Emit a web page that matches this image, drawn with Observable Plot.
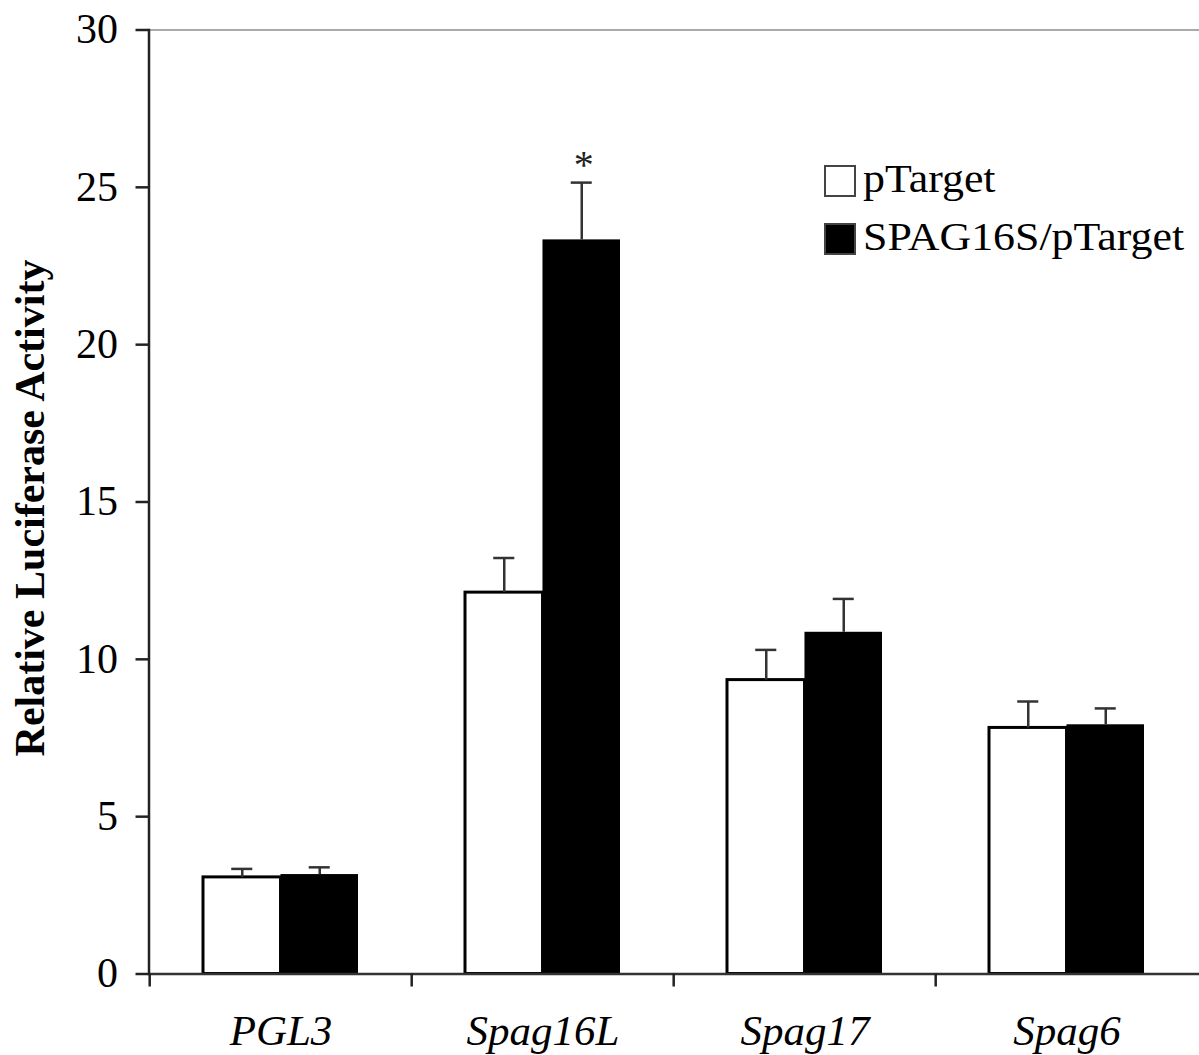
<!DOCTYPE html>
<html>
<head>
<meta charset="utf-8">
<script src="https://cdn.jsdelivr.net/npm/d3@7"></script>
<script src="https://cdn.jsdelivr.net/npm/@observablehq/plot@0.6"></script>
<style>
  body { margin: 0; background: #fff; }
  #wrap { position: relative; width: 1199px; height: 1055px; overflow: hidden; }
  #wrap svg text { font-family: "Liberation Serif", "Times New Roman", serif; }
  .legend { position: absolute; left: 824px; font-family: "Liberation Serif", "Times New Roman", serif; font-size: 41px; color: #000; }
  .legend .row { position: absolute; left: 0; white-space: nowrap; height: 32px; }
  .legend .sw { position: absolute; left: 0; top: 0; width: 28px; height: 28px; border: 2px solid #444; }
  .legend .lab { position: absolute; left: 39px; top: -7px; line-height: 41px; transform: scaleX(1.07); transform-origin: left center; }
</style>
</head>
<body>
<div id="wrap"></div>
<script>
// ---- data ----
const categories = ["PGL3", "Spag16L", "Spag17", "Spag6"];
const seriesNames = ["pTarget", "SPAG16S/pTarget"];
const pTargetValues = [3.07, 12.12, 9.34, 7.82];
const pTargetErrors = [0.27, 1.10, 0.96, 0.84];
const spagValues = [3.16, 23.33, 10.86, 7.92];
const spagErrors = [0.23, 1.82, 1.06, 0.52];
const significance = ["", "*", "", ""];
const yTicks = [0, 5, 10, 15, 20, 25, 30];

const whiteRows = categories.map((c, i) => ({category: c, series: seriesNames[0], value: pTargetValues[i], err: pTargetErrors[i]}));
const blackRows = categories.map((c, i) => ({category: c, series: seriesNames[1], value: spagValues[i], err: spagErrors[i], sig: significance[i]}));

// ---- layout ----
const W = 1199, H = 1055;
const mL = 148.5, mR = 0, mT = 29.5, mB = 81.5;
const step = (W - mL - mR) / categories.length;
const padInner = 0.41;
const bw = step * (1 - padInner);
const capHalf = 10.5;
const font = '"Liberation Serif", "Times New Roman", serif';

const chart = Plot.plot({
  width: W,
  height: H,
  marginLeft: mL,
  marginRight: mR,
  marginTop: mT,
  marginBottom: mB,
  style: {fontFamily: font, background: "#fff", color: "#000", overflow: "visible"},
  x: {type: "band", domain: categories, paddingInner: padInner, paddingOuter: padInner / 2, label: null},
  y: {domain: [0, 30], label: null},
  marks: [
    // top gray border
    Plot.ruleY([30], {stroke: "#aaa", strokeWidth: 2}),
    // bars
    Plot.barY(whiteRows, {x: "category", y: "value", fill: "white", stroke: "black", strokeWidth: 3, insetRight: bw / 2}),
    Plot.barY(blackRows, {x: "category", y: "value", fill: "black", insetLeft: bw / 2}),
    // error bars (upper only)
    Plot.ruleX(whiteRows, {x: "category", y1: "value", y2: d => d.value + d.err, dx: -bw / 4, stroke: "#333", strokeWidth: 2.5}),
    Plot.ruleX(blackRows, {x: "category", y1: "value", y2: d => d.value + d.err, dx: bw / 4, stroke: "#333", strokeWidth: 2.5}),
    Plot.tickY(whiteRows, {x: "category", y: d => d.value + d.err, insetLeft: bw / 4 - capHalf, insetRight: 3 * bw / 4 - capHalf, stroke: "#333", strokeWidth: 2.5}),
    Plot.tickY(blackRows, {x: "category", y: d => d.value + d.err, insetLeft: 3 * bw / 4 - capHalf, insetRight: bw / 4 - capHalf, stroke: "#333", strokeWidth: 2.5}),
    // significance star
    Plot.text(blackRows.filter(d => d.sig), {x: "category", y: d => d.value + d.err, text: "sig", dx: bw / 4 + 2, dy: -5, lineAnchor: "bottom", fontSize: 40, fontFamily: font, fill: "#222"}),
    // baseline
    Plot.ruleY([0], {stroke: "#333", strokeWidth: 2.5}),
    // y axis
    Plot.axisY({ticks: yTicks, tickSize: 13, tickPadding: 18, fontSize: 42, fontFamily: font, stroke: "#222", strokeWidth: 2.5, label: null}),
    Plot.frame({anchor: "left", stroke: "#222", strokeWidth: 2.5}),
    // x boundary ticks
    Plot.axisX({tickSize: 13, tickFormat: () => "", dx: -step / 2, stroke: "#222", strokeWidth: 2.5, label: null}),
    // x category labels
    Plot.axisX({tickSize: 0, tickPadding: 40, fontSize: 43, fontStyle: "italic", fontFamily: font, label: null}),
    // y title
    Plot.text({length: 1}, {frameAnchor: "left", text: () => "Relative Luciferase Activity", textAnchor: "middle", rotate: -90, dx: -118.5, dy: 6, fontSize: 42, fontWeight: "bold", fontFamily: font, fill: "#000"})
  ]
});

const wrap = document.getElementById("wrap");
wrap.appendChild(chart);

// legend
const legend = document.createElement("div");
legend.className = "legend";
legend.style.top = "165px";
const legendFills = ["#fff", "#000"];
seriesNames.forEach((name, i) => {
  const row = document.createElement("div");
  row.className = "row";
  row.style.top = (i * 57.5) + "px";
  const sw = document.createElement("span");
  sw.className = "sw";
  sw.style.background = legendFills[i];
  const lab = document.createElement("span");
  lab.className = "lab";
  lab.textContent = name;
  row.appendChild(sw);
  row.appendChild(lab);
  legend.appendChild(row);
});
wrap.appendChild(legend);
</script>
</body>
</html>
